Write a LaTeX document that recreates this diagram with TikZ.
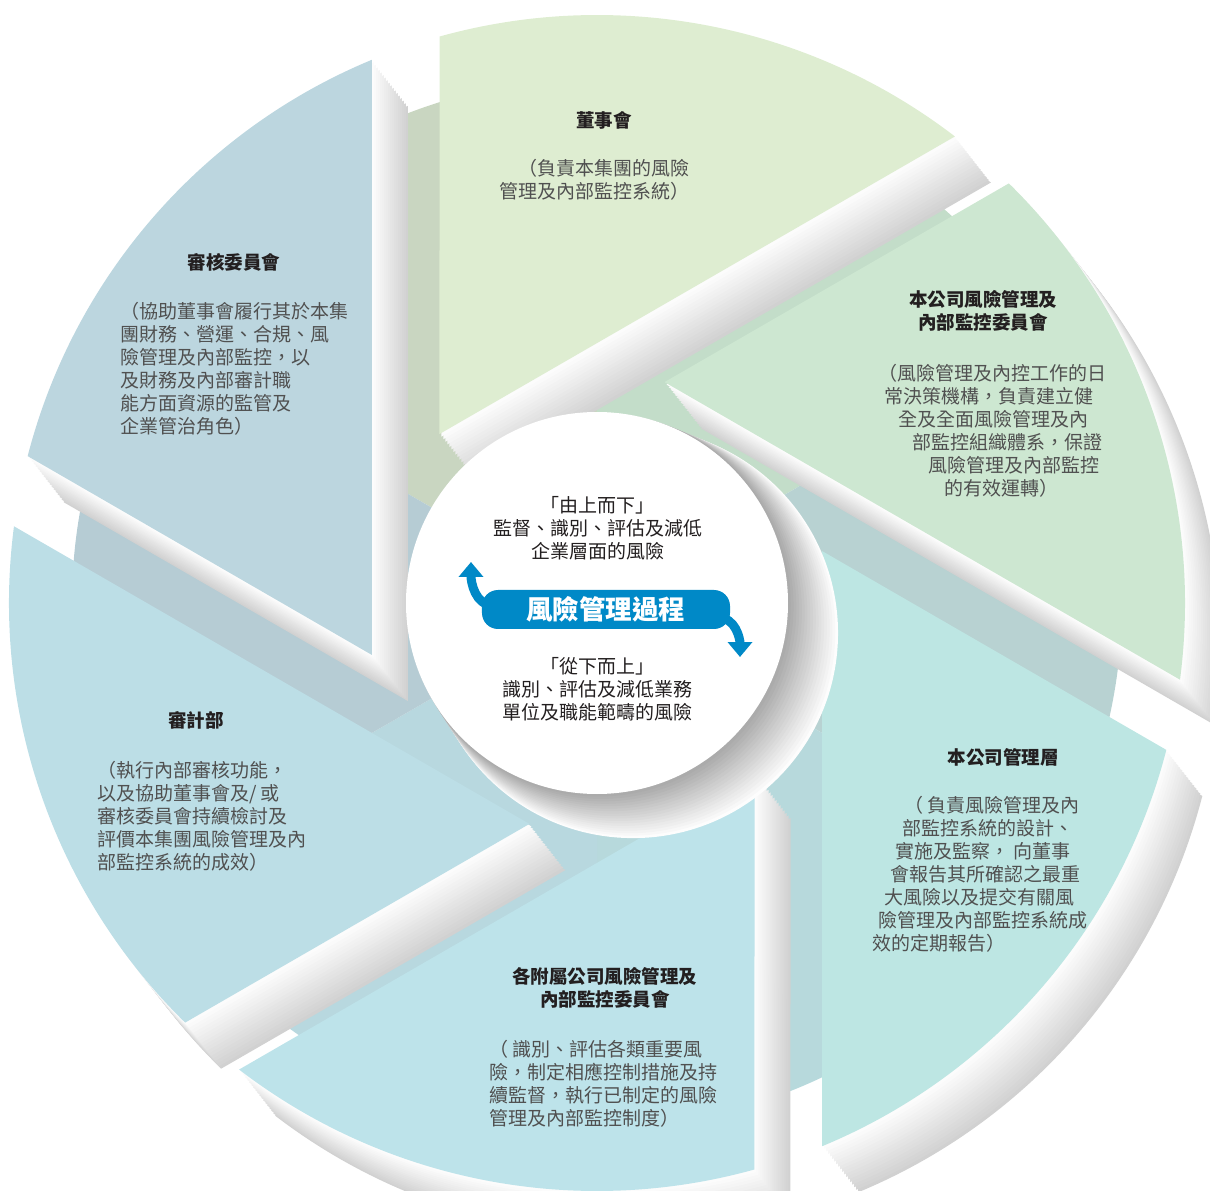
\documentclass[tikz,border=0pt]{standalone}
\usepackage{fontspec}
\setmainfont{Noto Sans CJK TC}
\usetikzlibrary{arrows.meta}

\definecolor{boardgreen}{HTML}{DEEDD1}
\definecolor{riskgreen}{HTML}{CDE7D1}
\definecolor{mgmtcyan}{HTML}{BDE6E3}
\definecolor{subcyan}{HTML}{BDE3EA}
\definecolor{deptblue}{HTML}{BCDEE6}
\definecolor{auditblue}{HTML}{BCD6DF}
\definecolor{boardlow}{HTML}{C9D6C1}
\definecolor{risklow}{HTML}{C3DDC9}
\definecolor{mgmtlow}{HTML}{B8D2D2}
\definecolor{sublow}{HTML}{B7D9DC}
\definecolor{deptlow}{HTML}{B8D8DF}
\definecolor{auditlow}{HTML}{B6CCD4}
\definecolor{procblue}{HTML}{0089C7}
\definecolor{titlegray}{HTML}{231F20}
\definecolor{notegray}{HTML}{505050}

\tikzset{
	headtext/.style={font=\bfseries\fontsize{18.5}{23}\selectfont, text=titlegray, align=center, inner sep=0pt},
	notetext/.style={font=\fontsize{19}{23}\selectfont, text=notegray, inner sep=0pt},
	centertext/.style={font=\fontsize{19}{23}\selectfont, text=titlegray, align=center, inner sep=0pt},
	banner/.style={fill=procblue, text=white, rounded corners=16pt, minimum width=248pt, minimum height=39pt, font=\bfseries\fontsize{26.5}{28}\selectfont},
	flow/.style={draw=procblue, line width=9pt, -{Triangle[width=24pt,length=15pt]}},
}

\begin{document}
\begin{tikzpicture}[x=1pt,y=1pt]
	\useasboundingbox (-597,-588) rectangle (613,603);
	
	% lower layer under the blades
	\foreach \b/\col in {60/boardlow, 0/risklow, -60/mgmtlow, -120/sublow, 180/deptlow, 120/auditlow}
		\fill[\col] (0,0) -- (\b+30:525) arc[start angle=\b+30, end angle=\b+90, radius=525] -- cycle;
	
	% shadows of the blades, light to dark
	\foreach \b in {60,0,-60,-120,180,120}
		\foreach \s [evaluate=\s as \k using 35-1.9*\s] in {18,17,...,1}
			\fill[black!\k, shift={(2*\s,-2.56*\s)}] (\b+73:231) -- ++(\b-30:595.2) arc[start angle=\b-7.49, end angle=\b+45.54, radius=588] -- cycle;
	
	\foreach \b/\col in {60/boardgreen, 0/riskgreen, -60/mgmtcyan, -120/subcyan, 180/deptblue, 120/auditblue}
		\fill[\col] (\b+73:231) -- ++(\b-30:595.2) arc[start angle=\b-7.49, end angle=\b+45.54, radius=588] -- cycle;
	
	% centre disc
	\foreach \s [evaluate=\s as \k using 35-1.9*\s] in {18,17,...,1}
		\fill[black!\k] (2*\s,-1.67*\s) circle[radius=191+0.78*\s];
	\fill[white] (0,0) circle[radius=191];
	
	\node[banner] (process) at (9,-6.5) {風險管理過程};
	\coordinate (upTip) at (-126,41);
	\coordinate (downTip) at (143,-54);
	\draw[flow] ([xshift=12pt,yshift=4pt]process.west) to[out=180,in=-90] (upTip);
	\draw[flow] ([xshift=-12pt,yshift=-8pt]process.east) to[out=0,in=90] (downTip);
	
	\node[centertext] (topDown) at (1,75) {「由上而下」\\監督、識別、評估及減低\\企業層面的風險};
	\node[centertext] (bottomUp) at (1,-86) {「從下而上」\\識別、評估及減低業務\\單位及職能範疇的風險};
	
	\node[headtext] (board) at (7,483) {董事會};
	\node[notetext, align=right, anchor=north east] (boardNote) at (93,444) {（負責本集團的風險\\管理及內部監控系統）};
	
	\node[headtext] (riskCom) at (386,292.5) {本公司風險管理及\\內部監控委員會};
	\node[notetext, align=left, anchor=north west] (riskComNote) at (281,239) {（風險管理及內控工作的日\\\hspace*{6pt}常決策機構，負責建立健\\\hspace*{20pt}全及全面風險管理及內\\\hspace*{34pt}部監控組織體系，保證\\\hspace*{50pt}風險管理及內部監控\\\hspace*{66pt}的有效運轉）};
	
	\node[headtext] (mgmt) at (406,-154) {本公司管理層};
	\node[notetext, align=left, anchor=north west] (mgmtNote) at (275,-193) {\hspace*{32pt}（ 負責風險管理及內\\\hspace*{30pt}部監控系統的設計、\\\hspace*{23pt}實施及監察， 向董事\\\hspace*{18pt}會報告其所確認之最重\\\hspace*{12pt}大風險以及提交有關風\\\hspace*{6pt}險管理及內部監控系統成\\效的定期報告）};
	
	\node[headtext] (subCom) at (8,-384.5) {各附屬公司風險管理及\\內部監控委員會};
	\node[notetext, align=left, anchor=north west] (subComNote) at (-108,-437) {（ 識別、評估各類重要風\\險，制定相應控制措施及持\\續監督，執行已制定的風險\\管理及內部監控制度）};
	
	\node[headtext] (auditDept) at (-401,-117) {審計部};
	\node[notetext, align=left, anchor=north west] (auditDeptNote) at (-500,-158) {（執行內部審核功能，\\以及協助董事會及/ 或\\審核委員會持續檢討及\\評價本集團風險管理及內\\部監控系統的成效）};
	
	\node[headtext] (auditCom) at (-363,341) {審核委員會};
	\node[notetext, align=left, anchor=north west] (auditComNote) at (-477,301) {（協助董事會履行其於本集\\團財務、營運、合規、風\\險管理及內部監控，以\\及財務及內部審計職\\能方面資源的監管及\\企業管治角色）};
\end{tikzpicture}
\end{document}
